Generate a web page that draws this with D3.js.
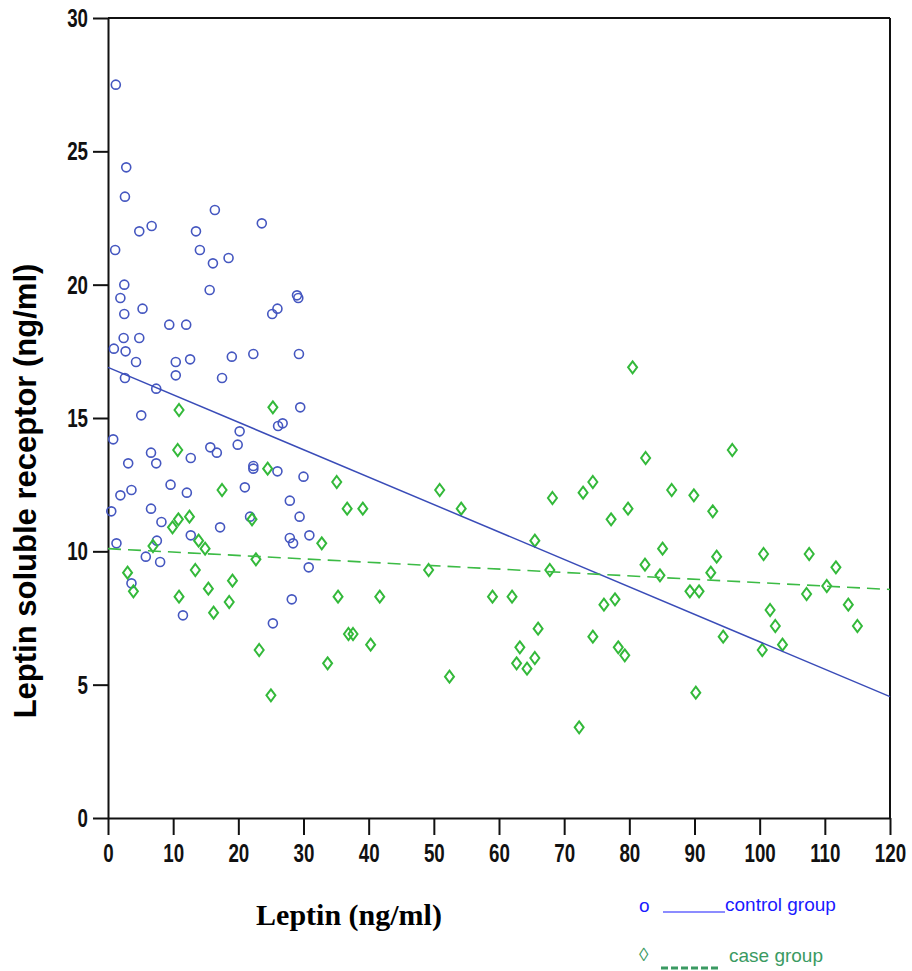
<!DOCTYPE html>
<html>
<head>
<meta charset="utf-8">
<script src="https://cdn.jsdelivr.net/npm/d3@7"></script>
<style>
  body { margin: 0; background: #fff; }
  .tick text { font-family: Arial, "Liberation Sans", sans-serif; font-weight: bold; font-size: 25px; fill: #111; }
</style>
</head>
<body>
<script>
// control group: leptin (x), soluble receptor (y)
var controlX = [1.2, 2.8, 2.6, 4.8, 6.7, 13.5, 16.4, 23.6, 1.1, 14.1, 16.1, 18.5, 2.5, 1.9, 15.6, 29.0, 29.2,
  2.5, 5.3, 9.4, 12.0, 25.2, 26.0, 2.4, 4.8, 0.9, 2.7, 4.3, 10.4, 12.6, 19.0, 22.3, 29.3, 10.4, 17.5, 2.6,
  7.4, 5.1, 29.5, 26.1, 26.8, 20.2, 0.8, 6.6, 15.7, 16.7, 12.7, 19.9, 3.1, 7.4, 22.3, 22.3, 26.0, 30.0,
  9.6, 12.1, 21.0, 3.6, 1.9, 27.9, 0.5, 6.6, 8.2, 29.4, 21.8, 17.2, 1.3, 7.5, 12.7, 27.9, 28.4, 30.9,
  5.8, 8.0, 30.8, 3.6, 28.2, 11.5, 25.3];
var controlY = [27.5, 24.4, 23.3, 22.0, 22.2, 22.0, 22.8, 22.3, 21.3, 21.3, 20.8, 21.0, 20.0, 19.5, 19.8, 19.6, 19.5,
  18.9, 19.1, 18.5, 18.5, 18.9, 19.1, 18.0, 18.0, 17.6, 17.5, 17.1, 17.1, 17.2, 17.3, 17.4, 17.4, 16.6, 16.5, 16.5,
  16.1, 15.1, 15.4, 14.7, 14.8, 14.5, 14.2, 13.7, 13.9, 13.7, 13.5, 14.0, 13.3, 13.3, 13.2, 13.1, 13.0, 12.8,
  12.5, 12.2, 12.4, 12.3, 12.1, 11.9, 11.5, 11.6, 11.1, 11.3, 11.3, 10.9, 10.3, 10.4, 10.6, 10.5, 10.3, 10.6,
  9.8, 9.6, 9.4, 8.8, 8.2, 7.6, 7.3];

// case group
var caseX = [10.9, 25.3, 10.7, 24.5, 17.5, 35.1, 36.7, 39.1, 22.1, 12.5, 10.8, 9.9, 6.9, 13.9, 14.9, 32.8,
  22.7, 3.0, 3.9, 13.4, 19.1, 15.4, 10.9, 18.6, 16.2, 35.3, 36.9, 23.2, 33.7, 25.0, 50.9, 54.2, 65.5, 49.2,
  67.8, 68.2, 72.9, 74.4, 77.2, 41.7, 59.0, 62.0, 76.1, 77.8, 37.6, 40.3, 52.4, 66.0, 74.4, 63.2, 62.7,
  64.3, 65.5, 72.3, 80.5, 82.5, 95.8, 86.5, 89.9, 92.8, 79.8, 85.1, 82.4, 84.7, 93.4, 92.5, 100.6, 107.6,
  111.7, 89.3, 90.7, 107.2, 110.3, 101.6, 102.4, 103.5, 113.6, 115.0, 94.4, 100.4, 78.3, 79.3, 90.2];
var caseY = [15.3, 15.4, 13.8, 13.1, 12.3, 12.6, 11.6, 11.6, 11.2, 11.3, 11.2, 10.9, 10.2, 10.4, 10.1, 10.3,
  9.7, 9.2, 8.5, 9.3, 8.9, 8.6, 8.3, 8.1, 7.7, 8.3, 6.9, 6.3, 5.8, 4.6, 12.3, 11.6, 10.4, 9.3,
  9.3, 12.0, 12.2, 12.6, 11.2, 8.3, 8.3, 8.3, 8.0, 8.2, 6.9, 6.5, 5.3, 7.1, 6.8, 6.4, 5.8,
  5.6, 6.0, 3.4, 16.9, 13.5, 13.8, 12.3, 12.1, 11.5, 11.6, 10.1, 9.5, 9.1, 9.8, 9.2, 9.9, 9.9,
  9.4, 8.5, 8.5, 8.4, 8.7, 7.8, 7.2, 6.5, 8.0, 7.2, 6.8, 6.3, 6.4, 6.1, 4.7];

// fit lines, read at leptin = 0 and 120
var fitX = [0, 120];
var controlFit = [16.9, 4.55];
var caseFit = [10.1, 8.57];

var xTicks = [0, 10, 20, 30, 40, 50, 60, 70, 80, 90, 100, 110, 120];
var yTicks = [0, 5, 10, 15, 20, 25, 30];

var W = 912, H = 971;
var pLeft = 108, pRight = 890, pTop = 18, pBottom = 818;
var squeeze = 0.75;

var svg = d3.select("body").append("svg").attr("width", W).attr("height", H);

var x = d3.scaleLinear().domain([0, 120]).range([pLeft, pRight]);
var y = d3.scaleLinear().domain([0, 30]).range([pBottom, pTop]);

// frame (top and right)
svg.append("line").attr("x1", pLeft).attr("x2", pRight).attr("y1", pTop).attr("y2", pTop)
  .attr("stroke", "#111").attr("stroke-width", 2);
svg.append("line").attr("x1", pRight).attr("x2", pRight).attr("y1", pTop).attr("y2", pBottom)
  .attr("stroke", "#111").attr("stroke-width", 2);

var xAxis = svg.append("g").attr("transform", "translate(0," + pBottom + ")")
  .call(d3.axisBottom(x).tickValues(xTicks).tickSize(17).tickSizeOuter(0));
xAxis.selectAll(".tick text").attr("y", 44).attr("dy", null)
  .attr("transform", "scale(" + squeeze + ",1)");

var yAxis = svg.append("g").attr("transform", "translate(" + pLeft + ",0)")
  .call(d3.axisLeft(y).tickValues(yTicks).tickSize(15).tickSizeOuter(0));
yAxis.selectAll(".tick text").attr("x", -20 / squeeze).attr("dy", "0.34em")
  .attr("transform", "scale(" + squeeze + ",1)");

[xAxis, yAxis].forEach(function(a) {
  a.select(".domain").attr("stroke", "#111").attr("stroke-width", 2);
  a.selectAll(".tick line").attr("stroke", "#111").attr("stroke-width", 2);
});

// points
var control = controlX.map(function(d, i) { return [d, controlY[i]]; });
var cases = caseX.map(function(d, i) { return [d, caseY[i]]; });

svg.append("g").selectAll("circle").data(control).enter().append("circle")
  .attr("cx", function(d) { return x(d[0]); })
  .attr("cy", function(d) { return y(d[1]); })
  .attr("r", 4.5)
  .attr("fill", "none").attr("stroke", "#4557c0").attr("stroke-width", 1.6);

var diamond = "M0,-6L4.5,0L0,6L-4.5,0Z";
svg.append("g").selectAll("path").data(cases).enter().append("path")
  .attr("transform", function(d) { return "translate(" + x(d[0]) + "," + y(d[1]) + ")"; })
  .attr("d", diamond)
  .attr("fill", "none").attr("stroke", "#33b93a").attr("stroke-width", 2);

// fit lines
var line = d3.line().x(function(d) { return x(d[0]); }).y(function(d) { return y(d[1]); });
svg.append("path").datum(fitX.map(function(d, i) { return [d, controlFit[i]]; }))
  .attr("d", line).attr("fill", "none").attr("stroke", "#3a4cb8").attr("stroke-width", 1.5);
svg.append("path").datum(fitX.map(function(d, i) { return [d, caseFit[i]]; }))
  .attr("d", line).attr("fill", "none").attr("stroke", "#3cbb45").attr("stroke-width", 1.6)
  .attr("stroke-dasharray", "13,7");

// axis titles
svg.append("text").attr("transform", "translate(36,491) rotate(-90)")
  .attr("text-anchor", "middle")
  .style("font-family", "Arial, 'Liberation Sans', sans-serif").style("font-weight", "bold").style("font-size", "31px")
  .text("Leptin soluble receptor (ng/ml)");
svg.append("text").attr("x", 349).attr("y", 925).attr("text-anchor", "middle")
  .style("font-family", "'Times New Roman', 'Liberation Serif', serif").style("font-weight", "bold").style("font-size", "30px")
  .text("Leptin (ng/ml)");

// legend
var lg = svg.append("g").style("font-family", "Arial, 'Liberation Sans', sans-serif").style("font-size", "19px");
lg.append("text").attr("x", 639).attr("y", 912).attr("fill", "#1a1aff").text("o");
lg.append("line").attr("x1", 663).attr("x2", 725).attr("y1", 912).attr("y2", 912)
  .attr("stroke", "#1a1aff").attr("stroke-width", 1.2);
lg.append("text").attr("x", 725).attr("y", 911).attr("fill", "#1a1aff").text("control group");
lg.append("text").attr("x", 639).attr("y", 961).attr("fill", "#3a9a62").text("\u25CA");
lg.append("line").attr("x1", 661).attr("x2", 720).attr("y1", 968).attr("y2", 968)
  .attr("stroke", "#3a9a62").attr("stroke-width", 3).attr("stroke-dasharray", "7,3");
lg.append("text").attr("x", 729).attr("y", 962).attr("fill", "#3a9a62").text("case group");
</script>
</body>
</html>
